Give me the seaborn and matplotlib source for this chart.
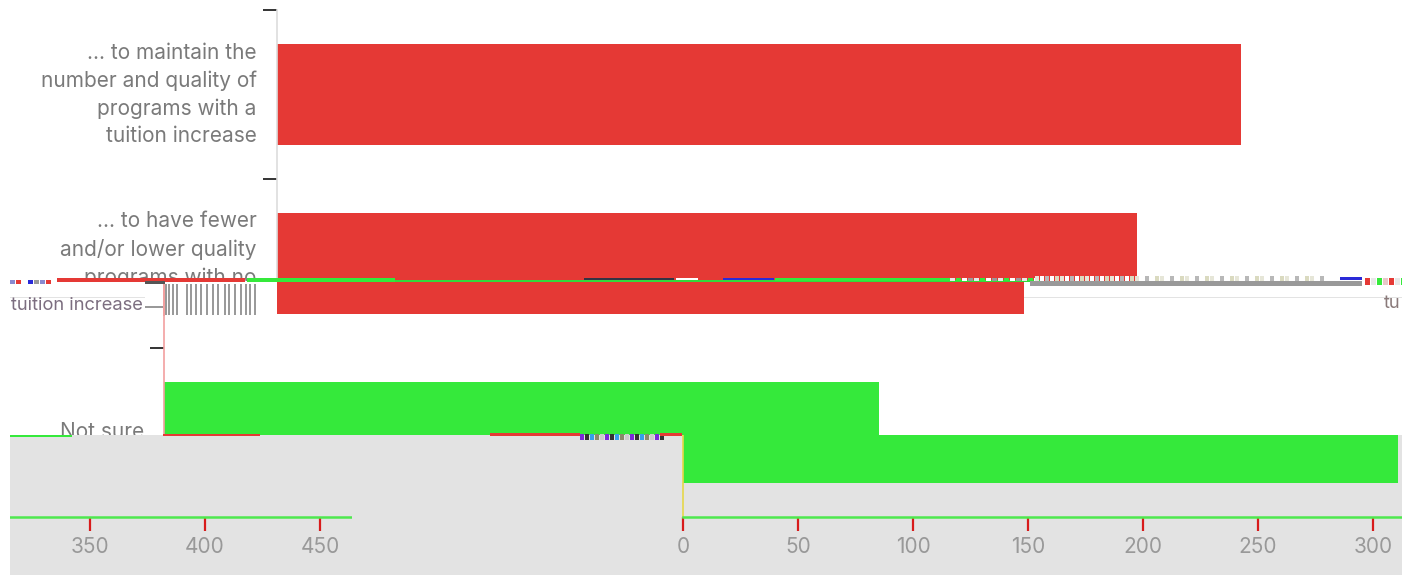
import matplotlib
matplotlib.use("Agg")
import matplotlib.pyplot as plt
import seaborn as sns
from matplotlib.patches import Rectangle

# ---- data ----
categories = [
    "... to maintain the\nnumber and quality of\nprograms with a\ntuition increase",
    "... to have fewer\nand/or lower quality\nprograms with no\ntuition increase",
    "Not sure",
]
values = [419, 374, 311]
bar_colors = ["#E53935", "#E53935", "#35E93B"]
x_ticks = [0, 50, 100, 150, 200, 250, 300, 350, 400, 450]

# ---- layout (pixels) ----
W, H = 1409, 575
PX_PER_UNIT = 2.3
BAND = 169.0
FIRST_CENTER = 94.5
GRAY = "#E3E3E3"
AXIS_END = 464
FS = 15.0

sns.set_theme(style="white")
plt.rcParams["font.family"] = ["Inter", "DejaVu Sans"]
fig = plt.figure(figsize=(W / 100, H / 100), dpi=100, facecolor="white")


def pane(x0, x1, y0, y1, origin, face="none", spine="#DDDDDD", bottom=False, left=True,
         tickc="#333333", z=1):
    ax = fig.add_axes([x0 / W, 1 - y1 / H, (x1 - x0) / W, (y1 - y0) / H], zorder=z)
    ax.set_facecolor(face)
    sns.barplot(x=values, y=categories, hue=categories, palette=bar_colors, legend=False,
                orient="h", width=0.6, saturation=1, ax=ax, linewidth=0)
    ax.set_xlabel("")
    ax.set_ylabel("")
    for s in ax.spines.values():
        s.set_visible(False)
    lsp = ax.spines["left"]
    lsp.set_visible(left)
    lsp.set_position(("data", 0))
    lsp.set_color(spine)
    lsp.set_linewidth(1.2)
    lsp.set_bounds(-0.5, 2.5)
    lsp.set_clip_on(True)
    lsp.set_clip_box(ax.bbox)
    ax.set_yticks(range(3))
    ax.set_yticklabels(categories, color="#7A7A7A", fontsize=FS, linespacing=1.46, ha="right", va="center")
    ax.set_yticks([-0.5, 0.5, 1.5], minor=True)
    ax.tick_params(axis="y", which="major", length=0, pad=14.5, left=True)
    ax.tick_params(axis="y", which="minor", length=10, width=1.4, color=tickc, left=left)
    for t in ax.get_yticklabels():
        t.set_clip_box(ax.bbox)
        t.set_clip_on(True)
    for t in ax.yaxis.get_minor_ticks():
        t.tick1line.set_clip_box(ax.bbox)
        t.tick1line.set_clip_on(True)
    if bottom:
        sp = ax.spines["bottom"]
        sp.set_visible(True)
        sp.set_position(("data", 2.5))
        sp.set_color("#4EE84E")
        sp.set_linewidth(1.8)
        sp.set_bounds(0, AXIS_END)
        sp.set_clip_on(True)
        sp.set_clip_box(ax.bbox)
        ax.set_xticks(x_ticks)
        ax.set_xticklabels([str(v) for v in x_ticks], color="#999999", fontsize=FS)
        ax.tick_params(axis="x", length=10, width=1.6, color="#D81B1B", pad=4.5, bottom=True)
        for t in ax.get_xticklabels():
            t.set_clip_box(ax.bbox)
            t.set_clip_on(True)
        for t in ax.xaxis.get_major_ticks():
            t.tick1line.set_clip_box(ax.bbox)
            t.tick1line.set_clip_on(True)
    else:
        ax.set_xticks([])
    ax.set_xlim((x0 - origin) / PX_PER_UNIT, (x1 - origin) / PX_PER_UNIT)
    ax.set_ylim((y1 - FIRST_CENTER) / BAND, (y0 - FIRST_CENTER) / BAND)
    return ax


# the same chart, torn into strips with different horizontal offsets
pane(0, 1409, 0, 281, 277, spine="#DDDDDD")
pane(0, 1409, 281, 316, 164, left=False)
pane(0, 1409, 316, 435, 164, spine="#F2A0A0")
pane(10, 1402, 435, 575, 683, face=GRAY, spine="#E6D84A", bottom=True)
pane(10, 352, 435, 575, -715, spine="none", bottom=True, left=False, z=2)

# overlay for the tearing artefacts (pixel coordinates)
ov = fig.add_axes([0, 0, 1, 1], zorder=5)
ov.set_xlim(0, W)
ov.set_ylim(H, 0)
ov.axis("off")


def rect(x0, x1, y0, y1, color):
    ov.add_patch(Rectangle((x0, y0), x1 - x0, y1 - y0, color=color, lw=0))


def speckle(x0, x1, y0, y1, colors, step=6):
    for i, x in enumerate(range(x0, x1, step)):
        rect(x, min(x + step - 1, x1), y0, y1, colors[i % len(colors)])


# second-tear text and barcode smear on the left
rect(165, 277, 281, 316, "white")
rect(10, 145, 296.5, 298, GRAY)
rect(1024, 1402, 296.5, 298, GRAY)
ov.text(143, 305, "tuition increase", color="#7C6E80", fontsize=13.2, va="center", ha="right")
for x in [165, 168, 172, 176, 186, 190, 195, 200, 206, 212, 217, 224, 228, 234, 240, 245, 249, 254]:
    rect(x, x + 2, 284, 315, "#9A9A9A")
rect(145, 163, 306, 308, "#999999")
rect(163, 165, 281, 316, "#F2A0A0")

# streaks along the first tear
rect(0, 10, 278, 286, "white")
speckle(10, 56, 280, 284, ["#8A8AD0", "#E53935", "#FFFFFF", "#2A2AD8", "#9A9A9A"])
rect(57, 245, 278, 282, "#E53935")
rect(145, 165, 281, 284, "#555555")
rect(247, 395, 278, 282, "#35E93B")
rect(395, 1040, 279.5, 281.5, "#35D83B")
rect(584, 674, 277.5, 279.5, "#333344")
rect(676, 698, 277.5, 280, "white")
rect(723, 774, 277.5, 279.5, "#2A2AD8")
rect(775, 950, 278, 281, "#35E93B")
speckle(950, 1035, 278, 281, ["#E8E8E8", "#35E93B", "#FFFFFF", "#9A9A9A"])
rect(1030, 1362, 281, 285.5, "#999999")
speckle(1035, 1330, 276, 280.5, ["#E6E6D8", "#FFFFFF", "#B8B8B8", "#FFFFFF", "#DADAC0"], step=5)
rect(1340, 1362, 277, 280, "#2A2AD8")
speckle(1365, 1402, 278, 285, ["#E53935", "#E8E8E8", "#35E93B", "#E8C8C8"])

# streaks along the second tear
rect(10, 72, 435, 437, "#35E93B")
rect(163, 260, 433.5, 436, "#E53935")
rect(490, 580, 433, 435.5, "#E53935")
speckle(580, 664, 434, 440, ["#7A2AD8", "#333333", "#35A0E9", "#8A8A6A", "#CCCCCC"], step=5)
rect(660, 682, 433, 435.5, "#E53935")
ov.text(1384, 303, "tu", color="#8A7A7A", fontsize=13.2, va="center", ha="left")
rect(1402, 1409, 270, 320, "white")

fig.savefig("out.png", dpi=100, facecolor="white")
